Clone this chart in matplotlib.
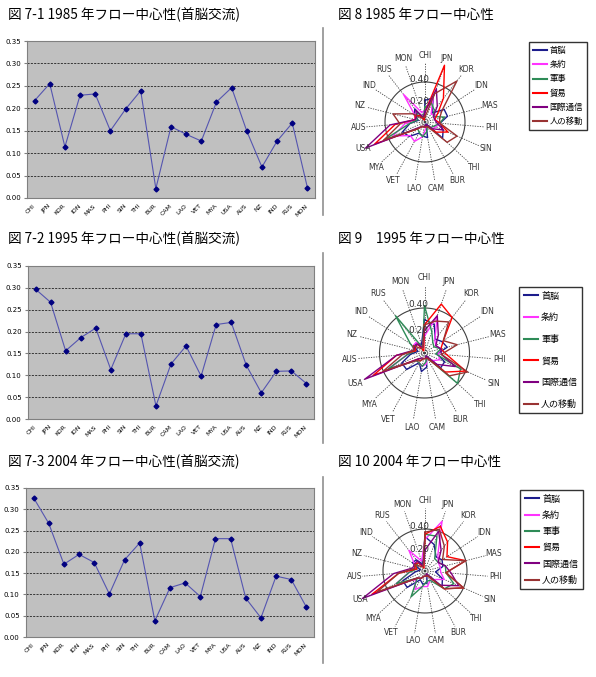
import numpy as np
import matplotlib
matplotlib.use("Agg")
import matplotlib.pyplot as plt
from matplotlib.lines import Line2D

plt.rcParams['font.family'] = ['Noto Sans CJK JP', 'DejaVu Sans']

W, H = 596, 677

countries = ['CHI', 'JPN', 'KOR', 'IDN', 'MAS', 'PHI', 'SIN', 'THI', 'BUR', 'CAM',
             'LAO', 'VET', 'MYA', 'USA', 'AUS', 'NZ', 'IND', 'RUS', 'MON']
series_names = ['首脳', '条約', '軍事', '貿易', '国際通信', '人の移動']
series_colors = ['#1c1c8c', '#ff33ff', '#2e8b57', '#ff0000', '#800080', '#993333']
yticks = [0.00, 0.05, 0.10, 0.15, 0.20, 0.25, 0.30, 0.35]

# 首脳交流 (line charts)
shuno_1985 = [0.217, 0.255, 0.114, 0.229, 0.232, 0.150, 0.198, 0.239, 0.021, 0.159,
              0.142, 0.127, 0.214, 0.246, 0.149, 0.069, 0.127, 0.167, 0.023]
shuno_1995 = [0.297, 0.267, 0.156, 0.186, 0.208, 0.113, 0.195, 0.195, 0.030, 0.126,
              0.167, 0.098, 0.216, 0.221, 0.123, 0.060, 0.109, 0.110, 0.081]
shuno_2004 = [0.327, 0.267, 0.171, 0.194, 0.175, 0.101, 0.181, 0.221, 0.038, 0.116,
              0.127, 0.095, 0.231, 0.231, 0.091, 0.045, 0.143, 0.135, 0.070]

# other flows (radar charts), rough estimates
joyaku_1985 = [0.12, 0.25, 0.10, 0.12, 0.10, 0.15, 0.12, 0.10, 0.05, 0.06,
               0.15, 0.22, 0.20, 0.35, 0.20, 0.10, 0.12, 0.35, 0.10]
gunji_1985 = [0.15, 0.20, 0.15, 0.10, 0.20, 0.15, 0.10, 0.08, 0.05, 0.10,
              0.15, 0.12, 0.10, 0.45, 0.15, 0.08, 0.10, 0.12, 0.05]
boeki_1985 = [0.10, 0.60, 0.30, 0.15, 0.10, 0.15, 0.25, 0.15, 0.05, 0.05,
              0.05, 0.05, 0.10, 0.55, 0.30, 0.10, 0.12, 0.08, 0.02]
tsushin_1985 = [0.10, 0.35, 0.20, 0.10, 0.10, 0.12, 0.20, 0.10, 0.03, 0.03,
                0.05, 0.05, 0.08, 0.65, 0.35, 0.10, 0.10, 0.15, 0.05]
idou_1985 = [0.05, 0.30, 0.52, 0.20, 0.15, 0.15, 0.35, 0.30, 0.05, 0.05,
             0.05, 0.05, 0.10, 0.45, 0.25, 0.33, 0.15, 0.05, 0.05]

joyaku_1995 = [0.15, 0.35, 0.15, 0.12, 0.15, 0.12, 0.15, 0.10, 0.05, 0.10,
               0.12, 0.10, 0.10, 0.35, 0.15, 0.10, 0.12, 0.12, 0.05]
gunji_1995 = [0.42, 0.20, 0.12, 0.10, 0.15, 0.10, 0.35, 0.40, 0.05, 0.08,
              0.12, 0.10, 0.10, 0.35, 0.15, 0.08, 0.15, 0.42, 0.05]
boeki_1995 = [0.25, 0.46, 0.40, 0.20, 0.15, 0.20, 0.40, 0.25, 0.05, 0.05,
              0.05, 0.08, 0.08, 0.50, 0.25, 0.08, 0.10, 0.10, 0.02]
tsushin_1995 = [0.20, 0.35, 0.20, 0.12, 0.15, 0.15, 0.30, 0.15, 0.03, 0.05,
                0.05, 0.05, 0.08, 0.58, 0.25, 0.10, 0.10, 0.10, 0.05]
idou_1995 = [0.25, 0.30, 0.35, 0.20, 0.30, 0.15, 0.42, 0.30, 0.05, 0.05,
             0.05, 0.08, 0.10, 0.40, 0.20, 0.10, 0.12, 0.05, 0.05]

joyaku_2004 = [0.30, 0.50, 0.20, 0.15, 0.15, 0.15, 0.20, 0.12, 0.10, 0.15,
               0.15, 0.20, 0.12, 0.30, 0.15, 0.10, 0.12, 0.25, 0.10]
gunji_2004 = [0.35, 0.35, 0.15, 0.15, 0.20, 0.20, 0.30, 0.25, 0.10, 0.10,
              0.15, 0.28, 0.10, 0.30, 0.15, 0.08, 0.10, 0.10, 0.05]
boeki_2004 = [0.35, 0.45, 0.35, 0.25, 0.40, 0.20, 0.40, 0.25, 0.05, 0.05,
              0.05, 0.08, 0.10, 0.55, 0.25, 0.08, 0.12, 0.10, 0.03]
tsushin_2004 = [0.20, 0.40, 0.25, 0.15, 0.20, 0.25, 0.35, 0.20, 0.03, 0.05,
                0.05, 0.08, 0.10, 0.65, 0.30, 0.12, 0.12, 0.12, 0.05]
idou_2004 = [0.37, 0.42, 0.30, 0.20, 0.40, 0.20, 0.40, 0.25, 0.05, 0.05,
             0.05, 0.08, 0.10, 0.50, 0.25, 0.10, 0.12, 0.05, 0.05]

left_titles = ['図 7-1 1985 年フロー中心性(首脳交流)',
               '図 7-2 1995 年フロー中心性(首脳交流)',
               '図 7-3 2004 年フロー中心性(首脳交流)']
right_titles = ['図 8 1985 年フロー中心性',
                '図 9　1995 年フロー中心性',
                '図 10 2004 年フロー中心性']

fig = plt.figure(figsize=(W / 100, H / 100), dpi=100)


def box(l, t, r, b):
    return [l / W, 1 - b / H, (r - l) / W, (b - t) / H]


# ---- line charts ----
line_boxes = [(27, 41, 315, 198), (28, 266, 314, 419), (26, 488, 314, 637)]
line_data = [shuno_1985, shuno_1995, shuno_2004]
x = np.arange(len(countries))
for bx, vals in zip(line_boxes, line_data):
    ax = fig.add_axes(box(*bx))
    ax.set_facecolor('#c0c0c0')
    for s in ax.spines.values():
        s.set_color('#808080')
        s.set_linewidth(0.8)
    for yv in yticks[1:-1]:
        ax.axhline(yv, color='#202020', lw=0.6, ls=(0, (2.5, 1.5)), zorder=1)
    ax.plot(x, vals, color='#5555b0', lw=0.8, marker='D', ms=2.5,
            mfc='#000080', mec='#000080', zorder=3)
    ax.set_xlim(-0.5, len(countries) - 0.5)
    ax.set_ylim(0, 0.35)
    ax.set_yticks(yticks)
    ax.set_yticklabels(['%.2f' % v for v in yticks], fontsize=5, family='DejaVu Sans')
    ax.set_xticks(x)
    ax.set_xticklabels(countries, fontsize=4.5, rotation=45, ha='right',
                       va='center', rotation_mode='anchor', family='DejaVu Sans')
    ax.tick_params(axis='x', length=0, pad=5)
    ax.tick_params(axis='y', length=2.5, pad=2, color='#808080')

for t, ty in zip(left_titles, [15, 239, 462]):
    fig.text(8 / W, 1 - ty / H, t, fontsize=9.8, va='center', ha='left')
for t, ty in zip(right_titles, [15, 239, 462]):
    fig.text(338 / W, 1 - ty / H, t, fontsize=9.8, va='center', ha='left')

# divider lines
for y0, y1 in [(28, 215), (253, 443), (477, 663)]:
    fig.add_artist(Line2D([323 / W, 323 / W], [1 - y0 / H, 1 - y1 / H],
                          color='#909090', lw=1.2))

# ---- radar charts ----
radar_sets = [
    [shuno_1985, joyaku_1985, gunji_1985, boeki_1985, tsushin_1985, idou_1985],
    [shuno_1995, joyaku_1995, gunji_1995, boeki_1995, tsushin_1995, idou_1995],
    [shuno_2004, joyaku_2004, gunji_2004, boeki_2004, tsushin_2004, idou_2004],
]
radar_geom = [(425, 122, 100), (424.5, 353, 112.5), (425, 571, 105)]
legend_geom = [(529, 42, 0.62, 6.0), (519, 287, 1.4, 6.5), (520, 490, 0.8, 6.5)]
RMAX = 0.70
n = len(countries)
theta = np.arange(n) * 2 * np.pi / n
theta_c = np.append(theta, theta[0])
circ = np.linspace(0, 2 * np.pi, 200)

for sets, (cx, cy, scale), (lx, ly, lsp, lfs) in zip(radar_sets, radar_geom, legend_geom):
    rpx = RMAX * scale
    ax = fig.add_axes(box(cx - rpx, cy - rpx, cx + rpx, cy + rpx), projection='polar')
    ax.set_theta_zero_location('N')
    ax.set_theta_direction(-1)
    ax.set_ylim(0, RMAX)
    ax.grid(False)
    ax.set_xticks([])
    ax.set_yticks([])
    ax.spines['polar'].set_visible(False)
    ax.patch.set_alpha(0)
    for th in theta:
        ax.plot([th, th], [0, 0.60], color='#404040', lw=0.6, ls=(0, (1.5, 1.5)), zorder=1)
    ax.plot(circ, np.full_like(circ, 0.40), color='#404040', lw=0.8, zorder=1)
    for vals, col in zip(sets, series_colors):
        v = np.append(vals, vals[0])
        ax.plot(theta_c, v, color=col, lw=1.0, zorder=3)
    for th, name in zip(theta, countries):
        ax.text(th, 0.67, name, fontsize=5.5, ha='center', va='center',
                family='DejaVu Sans', color='#333333', clip_on=False)
    ax.text(-0.12, 0.43, '0.40', fontsize=6.5, ha='center', va='center',
            family='DejaVu Sans', color='#333333')
    ax.text(-0.25, 0.21, '0.20', fontsize=6.5, ha='center', va='center',
            family='DejaVu Sans', color='#333333')
    handles = [Line2D([], [], color=c, lw=1.5) for c in series_colors]
    fig.legend(handles, series_names, loc='upper left',
               bbox_to_anchor=(lx / W, 1 - ly / H), fontsize=lfs,
               frameon=True, fancybox=False, edgecolor='black',
               handlelength=1.6, handletextpad=0.35, labelspacing=lsp,
               borderpad=0.5, borderaxespad=0)

fig.savefig('out.png', dpi=100)
